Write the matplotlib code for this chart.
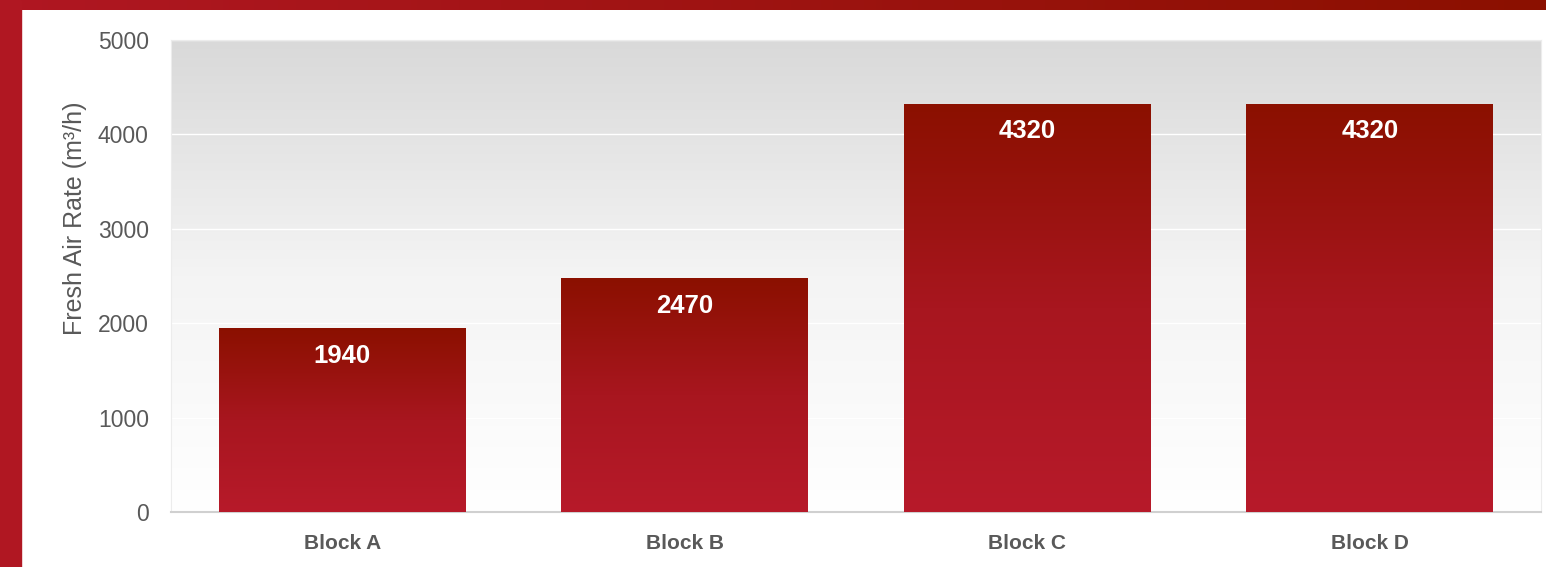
import numpy as np
import matplotlib
matplotlib.use("Agg")
import matplotlib.pyplot as plt
from matplotlib.colors import LinearSegmentedColormap
from matplotlib.patches import Rectangle

blocks = ["Block A", "Block B", "Block C", "Block D"]
fresh_air = [1940, 2470, 4320, 4320]
y_ticks = [0, 1000, 2000, 3000, 4000, 5000]

plt.rcParams['font.family'] = ['Liberation Sans', 'DejaVu Sans']

W, H = 1546, 567
fig = plt.figure(figsize=(W / 100, H / 100), dpi=100)
fig.patch.set_facecolor("white")

# red frame: left strip and top band
fig.patches.append(Rectangle((0, 0), 21 / W, 1, transform=fig.transFigure,
                             color="#b01722", zorder=0))
band = fig.add_axes([0, 1 - 10 / H, 1, 10 / H])
band_cmap = LinearSegmentedColormap.from_list("band", ["#b01722", "#8b1000"])
band.imshow(np.linspace(0, 1, 256)[None, :], cmap=band_cmap, aspect="auto",
            extent=(0, 1, 0, 1))
band.axis("off")

ax = fig.add_axes([171 / W, 1 - 512 / H, (1541 - 171) / W, (512 - 40) / H])

# background gradient (grey top -> white bottom)
bg_cmap = LinearSegmentedColormap.from_list("bg", ["#ffffff", "#f4f4f4", "#d9d9d9"])
ax.imshow(np.linspace(0, 1, 256)[:, None], cmap=bg_cmap, aspect="auto",
          extent=(0, 1, 0, 1), origin="lower", transform=ax.transAxes, zorder=0)

x = np.arange(len(blocks))
width = 0.72
bar_cmap = LinearSegmentedColormap.from_list("bar", ["#b71a2a", "#a8161f", "#8b1000"])
bars = ax.bar(x, fresh_air, width=width, color="none", zorder=3)
for b, v in zip(bars, fresh_air):
    x0 = b.get_x()
    ax.imshow(np.linspace(0, 1, 256)[:, None], cmap=bar_cmap, aspect="auto",
              extent=(x0, x0 + width, 0, v), origin="lower", zorder=3)
    ax.text(b.get_x() + width / 2, v - 285, f"{v}", ha="center", va="center",
            color="white", fontsize=18.5, fontweight="bold", zorder=4)

ax.set_xlim(-0.5, len(blocks) - 0.5)
ax.set_ylim(0, 5000)
ax.set_yticks(y_ticks)
ax.set_yticklabels([str(t) for t in y_ticks])
ax.set_xticks(x)
ax.set_xticklabels(blocks, fontweight="bold")
ax.tick_params(axis="y", length=0, labelsize=16.5, labelcolor="#595959", pad=16)
ax.tick_params(axis="x", length=0, labelsize=15, labelcolor="#595959", pad=16)
ax.grid(axis="y", color="white", lw=1, zorder=1)
ax.set_axisbelow(True)

for s in ["top", "right", "left"]:
    ax.spines[s].set_color("#ececec")
ax.spines["bottom"].set_color("#d0d0d0")
ax.spines["bottom"].set_linewidth(1.5)

ax.set_ylabel("Fresh Air Rate (m³/h)", fontsize=18, color="#595959")
ax.yaxis.set_label_coords(-0.061, 0.623)

fig.savefig("out.png", dpi=100)
